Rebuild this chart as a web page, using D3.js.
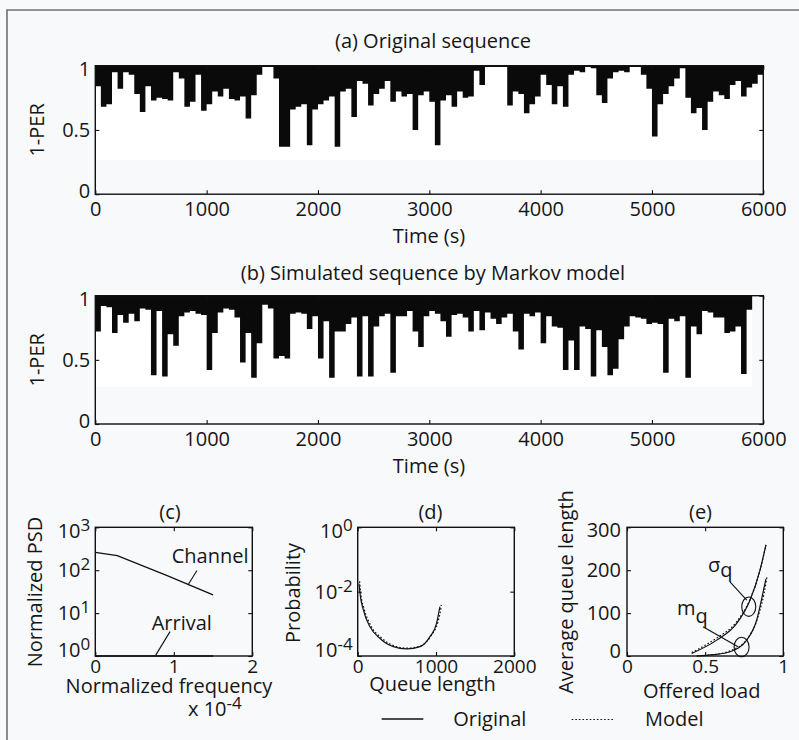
<!DOCTYPE html>
<html>
<head>
<meta charset="utf-8">
<script src="https://cdnjs.cloudflare.com/ajax/libs/d3/7.8.5/d3.min.js"></script>
<style>
  body { margin: 0; background: #f8f9fb; }
  svg text { font-family: "Open Sans", sans-serif; font-size: 20px; fill: #161616; }
</style>
</head>
<body>
<div id="chart"></div>
<script>
// ---- data ----
// 1-PER envelope: lowest value reached in each 50 s bin (band runs from 1 down to it)
const binStep = 50;
const origLo = [
  0.84,0.68,0.70,0.95,0.82,0.95,0.93,0.78,0.64,0.84,
  0.73,0.75,0.74,0.73,0.95,0.90,0.68,0.72,0.93,0.65,
  0.70,0.80,0.76,0.82,0.74,0.73,0.76,0.59,0.77,0.93,
  0.99,0.99,0.90,0.37,0.37,0.66,0.68,0.70,0.38,0.66,
  0.70,0.73,0.76,0.37,0.80,0.82,0.60,0.88,0.86,0.69,
  0.78,0.82,0.88,0.72,0.80,0.76,0.78,0.50,0.77,0.80,
  0.72,0.38,0.73,0.77,0.68,0.80,0.75,0.76,0.96,0.85,
  0.99,0.99,0.99,0.99,0.69,0.80,0.78,0.63,0.70,0.76,
  0.93,0.85,0.70,0.84,0.68,0.93,0.96,0.95,0.99,0.98,
  0.77,0.71,0.90,0.95,0.96,0.95,0.99,0.99,0.93,0.82,
  0.45,0.70,0.78,0.84,0.90,0.98,0.75,0.63,0.67,0.50,
  0.72,0.80,0.77,0.74,0.85,0.88,0.76,0.83,0.86,0.93
];
const simLo = [
  0.72,0.92,0.91,0.71,0.85,0.79,0.86,0.80,0.90,0.89,
  0.38,0.88,0.37,0.70,0.61,0.84,0.87,0.88,0.86,0.85,
  0.42,0.71,0.87,0.90,0.89,0.83,0.48,0.71,0.36,0.63,
  0.93,0.90,0.51,0.53,0.51,0.86,0.87,0.86,0.74,0.84,
  0.51,0.80,0.36,0.72,0.72,0.78,0.83,0.37,0.84,0.37,
  0.76,0.84,0.86,0.40,0.84,0.84,0.88,0.72,0.60,0.84,
  0.88,0.86,0.80,0.68,0.85,0.86,0.83,0.72,0.88,0.73,
  0.87,0.82,0.78,0.83,0.86,0.72,0.58,0.86,0.84,0.87,
  0.63,0.84,0.76,0.75,0.42,0.65,0.42,0.76,0.74,0.37,
  0.73,0.60,0.38,0.43,0.66,0.76,0.84,0.83,0.82,0.78,
  0.79,0.78,0.40,0.82,0.80,0.84,0.36,0.76,0.70,0.88,
  0.87,0.83,0.83,0.71,0.72,0.76,0.39,0.89
];
const timeTicks = [0, 1000, 2000, 3000, 4000, 5000, 6000];
const perTicks = [0, 0.5, 1];

// (c) PSD
const psdChannel = [[0, 260], [0.28, 218], [0.9, 77], [1.5, 26.5]];
const psdArrival = [[0, 1], [1.5, 1]];
const freqTicks = [0, 1, 2];
const psdExp = [0, 1, 2, 3];

// (d) queue length distribution
const queueOrig = [[17,0.018],[29,0.0089],[72,0.0027],[157,8.1e-4],[285,3.5e-4],[455,1.95e-4],
  [626,1.66e-4],[796,1.95e-4],[923,4.0e-4],[1008,1.05e-3],[1042,2.7e-3],[1050,3.4e-3]];
const queueModel = [[24,0.021],[38,0.0092],[84,0.0028],[170,8.6e-4],[300,3.7e-4],[470,2.05e-4],
  [640,1.75e-4],[812,2.1e-4],[940,4.4e-4],[1025,1.15e-3],[1058,2.6e-3],[1068,3.9e-3]];
const queueTicks = [0, 1000, 2000];
const probExp = [-4, -2, 0];

// (e) queue length vs offered load
const sigmaOrig = [[0.414,6],[0.574,37],[0.702,76],[0.787,130],[0.851,200],[0.889,259]];
const sigmaModel = [[0.414,8],[0.5,25],[0.574,42],[0.702,80],[0.787,132],[0.851,200],[0.889,259]];
const meanOrig = [[0.446,0],[0.55,3],[0.66,10],[0.766,37],[0.83,84],[0.883,170],[0.889,180]];
const meanModel = [[0.446,0],[0.55,3],[0.66,12],[0.77,40],[0.835,88],[0.89,172],[0.896,186]];
const loadTicks = [0, 0.5, 1];
const lenTicks = [0, 100, 200, 300];

// ---- drawing ----
const W = 799, H = 740;
const svg = d3.select("#chart").append("svg").attr("width", W).attr("height", H);
svg.append("rect").attr("width", W).attr("height", H).attr("fill", "#f8f9fb");
svg.append("path").attr("d", `M7,${H}V10H${W}`).attr("fill", "none")
  .attr("stroke", "#707070").attr("stroke-width", 1.6);

const ink = "#111";

function drawBox(x, y, xt, yt, xfmt, xpad, xsize) {
  const [x0, x1] = x.range(), [yb, yt0] = y.range();
  const g = svg.append("g");
  const bottom = g.append("g").attr("transform", `translate(0,${yb})`)
    .call(d3.axisBottom(x).tickValues(xt).tickSizeInner(-4).tickSizeOuter(0).tickPadding(xpad).tickFormat(xfmt));
  bottom.selectAll("text").style("font-size", xsize + "px");
  g.append("g").attr("transform", `translate(0,${yt0})`)
    .call(d3.axisTop(x).tickValues(xt).tickSizeInner(-4).tickSizeOuter(0).tickFormat(""));
  g.append("g").attr("transform", `translate(${x0},0)`)
    .call(d3.axisLeft(y).tickValues(yt).tickSizeInner(-4).tickSizeOuter(0).tickFormat(""));
  g.append("g").attr("transform", `translate(${x1},0)`)
    .call(d3.axisRight(y).tickValues(yt).tickSizeInner(-4).tickSizeOuter(0).tickFormat(""));
  g.selectAll(".domain").remove();
  g.selectAll(".tick line").attr("stroke", ink).attr("stroke-width", 1.1);
  g.append("rect").attr("x", x0).attr("y", yt0).attr("width", x1 - x0).attr("height", yb - yt0)
    .attr("fill", "none").attr("stroke", ink).attr("stroke-width", 1.4);
}

// y tick labels; first/last nudged inwards like the original
function yLabels(y, vals, fmt, gap, lowShift) {
  vals.forEach((v, i) => {
    const shift = i === 0 ? lowShift : (i === vals.length - 1 ? 3 : 0);
    svg.append("text").attr("x", y.x0 - gap).attr("y", y(v) + 7 + shift)
      .attr("text-anchor", "end").text(fmt(v));
  });
}

function logLabels(y, exps, x0) {
  exps.forEach((e, i) => {
    const shift = i === 0 ? -6 : (i === exps.length - 1 ? 4 : 0);
    const t = svg.append("text").attr("x", x0 - 5).attr("y", y(Math.pow(10, e)) + 7 + shift)
      .attr("text-anchor", "end");
    t.append("tspan").text("10");
    t.append("tspan").attr("dy", -7).style("font-size", "17px").text(String(e));
  });
}

function yTitle(txt, cx, cy) {
  svg.append("text").attr("transform", `translate(${cx},${cy}) rotate(-90)`)
    .attr("text-anchor", "middle").text(txt);
}
function centerText(txt, cx, by) {
  svg.append("text").attr("x", cx).attr("y", by).attr("text-anchor", "middle").text(txt);
}

// --- (a) and (b): time series ---
const xT = d3.scaleLinear().domain([0, 6000]).range([95.3, 763.3]);

function seriesPanel(lo, yTop, yBot, title, titleY, whiteTo) {
  const y = d3.scaleLinear().domain([0, 1]).range([yBot, yTop]);
  y.x0 = 95.3;
  const pts = lo.map((v, i) => ({ t: i * binStep, v }));
  pts.push({ t: lo.length * binStep, v: lo[lo.length - 1] });
  const tEnd = lo.length * binStep;
  // light sheet behind the trace
  svg.append("rect").attr("x", xT(0)).attr("y", y(1))
    .attr("width", xT(tEnd) - xT(0)).attr("height", y(whiteTo) - y(1)).attr("fill", "#ffffff");
  const area = d3.area().x(d => xT(d.t)).y0(y(1)).y1(d => y(d.v)).curve(d3.curveStepAfter);
  svg.append("path").datum(pts).attr("d", area).attr("fill", "#0a0a0a");
  drawBox(xT, y, timeTicks, perTicks, d3.format("d"), 8, 20);
  yLabels(y, perTicks, d => d === 0.5 ? "0.5" : String(d), 5, -3);
  yTitle("1-PER", 44, (yTop + yBot) / 2);
  centerText("Time (s)", 429, yBot + 49);
  centerText(title, 433, titleY);
}

seriesPanel(origLo, 65.7, 194.2, "(a) Original sequence", 48, 0.266);
seriesPanel(simLo, 295.7, 424, "(b) Simulated sequence by Markov model", 280, 0.29);

// --- (c) PSD ---
const xC = d3.scaleLinear().domain([0, 2]).range([95.3, 252.3]);
const yC = d3.scaleLog().domain([1, 1000]).range([656, 527.3]);
const lineC = d3.line().x(d => xC(d[0])).y(d => yC(d[1]));
svg.append("path").datum(psdChannel).attr("d", lineC).attr("fill", "none").attr("stroke", ink).attr("stroke-width", 1.3);
svg.append("path").datum(psdArrival).attr("d", lineC).attr("fill", "none").attr("stroke", ink).attr("stroke-width", 1.3);
drawBox(xC, yC, freqTicks, psdExp.map(e => Math.pow(10, e)), d3.format("d"), 3, 19);
logLabels(yC, psdExp, 95.3);
yTitle("Normalized PSD", 41.5, 592);
centerText("(c)", 170, 519);
centerText("Normalized frequency", 169, 693);
const xe = svg.append("text").attr("x", 188).attr("y", 716);
xe.append("tspan").text("x 10");
xe.append("tspan").attr("dy", -7).style("font-size", "17px").text("-4");
// callouts
svg.append("text").attr("x", xC(0.973)).attr("y", yC(145)).text("Channel");
svg.append("line").attr("x1", xC(1.18)).attr("y1", yC(45)).attr("x2", xC(1.295)).attr("y2", yC(98))
  .attr("stroke", ink).attr("stroke-width", 1.1);
svg.append("text").attr("x", xC(0.718)).attr("y", yC(4.04)).text("Arrival");
svg.append("line").attr("x1", xC(0.77)).attr("y1", yC(1.05)).attr("x2", xC(0.952)).attr("y2", yC(3.7))
  .attr("stroke", ink).attr("stroke-width", 1.1);

// --- (d) queue length distribution ---
const xD = d3.scaleLinear().domain([0, 2000]).range([357.7, 514.3]);
const yD = d3.scaleLog().domain([1e-4, 1]).range([656, 527.3]);
const lineD = d3.line().x(d => xD(d[0])).y(d => yD(d[1])).curve(d3.curveMonotoneX);
svg.append("path").datum(queueModel).attr("d", lineD).attr("fill", "none").attr("stroke", ink)
  .attr("stroke-width", 1.2).attr("stroke-dasharray", "1.6 2");
svg.append("path").datum(queueOrig).attr("d", lineD).attr("fill", "none").attr("stroke", ink).attr("stroke-width", 1.2);
drawBox(xD, yD, queueTicks, probExp.map(e => Math.pow(10, e)), d3.format("d"), 3, 19);
logLabels(yD, probExp, 357.7);
yTitle("Probability", 300, 593);
centerText("(d)", 430.5, 519);
centerText("Queue length", 432.5, 691);

// --- (e) average queue length ---
const xE = d3.scaleLinear().domain([0, 1]).range([627, 783.3]);
const yE = d3.scaleLinear().domain([0, 300]).range([656, 527.3]);
yE.x0 = 627;
const lineE = d3.line().x(d => xE(d[0])).y(d => yE(d[1])).curve(d3.curveMonotoneX);
[sigmaModel, meanModel].forEach(s => svg.append("path").datum(s).attr("d", lineE).attr("fill", "none")
  .attr("stroke", ink).attr("stroke-width", 1.2).attr("stroke-dasharray", "1.6 2"));
[sigmaOrig, meanOrig].forEach(s => svg.append("path").datum(s).attr("d", lineE).attr("fill", "none")
  .attr("stroke", ink).attr("stroke-width", 1.2));
drawBox(xE, yE, loadTicks, lenTicks, d => d === 0.5 ? "0.5" : String(d), 3, 19);
yLabels(yE, lenTicks, String, 6, -5);
yTitle("Average queue length", 572.5, 592);
centerText("(e)", 700.5, 519);
centerText("Offered load", 701.7, 698);
// sigma_q / m_q callouts
const sq = svg.append("text").attr("x", xE(0.518)).attr("y", yE(196));
sq.append("tspan").text("σ");
sq.append("tspan").attr("dy", 5).text("q");
svg.append("line").attr("x1", xE(0.659)).attr("y1", yE(173)).attr("x2", xE(0.766)).attr("y2", yE(130.5))
  .attr("stroke", ink).attr("stroke-width", 1.1);
svg.append("ellipse").attr("cx", xE(0.779)).attr("cy", yE(115)).attr("rx", 7).attr("ry", 9.7)
  .attr("fill", "none").attr("stroke", ink).attr("stroke-width", 1.1);
const mq = svg.append("text").attr("x", xE(0.32)).attr("y", yE(95.6));
mq.append("tspan").text("m");
mq.append("tspan").attr("dy", 8).text("q");
svg.append("line").attr("x1", xE(0.486)).attr("y1", yE(68.3)).attr("x2", xE(0.71)).attr("y2", yE(21.7))
  .attr("stroke", ink).attr("stroke-width", 1.1);
svg.append("ellipse").attr("cx", xE(0.733)).attr("cy", yE(21)).attr("rx", 7.5).attr("ry", 9.7)
  .attr("fill", "none").attr("stroke", ink).attr("stroke-width", 1.1);

// --- legend ---
svg.append("line").attr("x1", 381.7).attr("x2", 423.3).attr("y1", 719).attr("y2", 719)
  .attr("stroke", ink).attr("stroke-width", 1.3);
svg.append("text").attr("x", 453.3).attr("y", 726).text("Original");
svg.append("line").attr("x1", 571.7).attr("x2", 615).attr("y1", 719.5).attr("y2", 719.5)
  .attr("stroke", ink).attr("stroke-width", 1.2).attr("stroke-dasharray", "1.6 2");
svg.append("text").attr("x", 645).attr("y", 726).text("Model");
</script>
</body>
</html>
